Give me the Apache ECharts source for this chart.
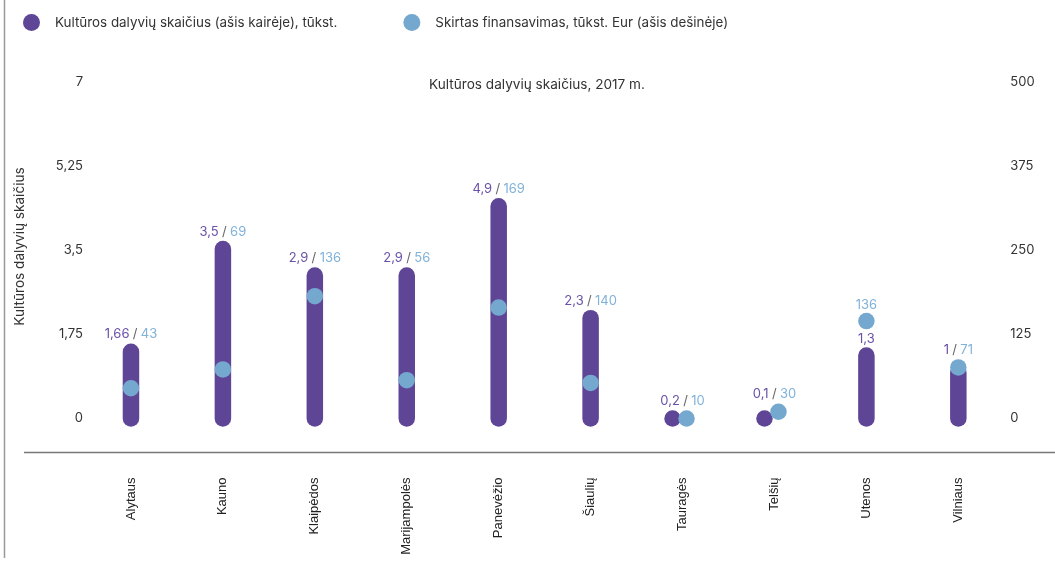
<!DOCTYPE html>
<html><head><meta charset="utf-8">
<script src="https://cdn.jsdelivr.net/npm/echarts@6/dist/echarts.min.js"></script>
<style>html,body{margin:0;padding:0;background:#fff}#c{width:1055px;height:561px}</style>
</head><body><div id="c"></div>
<script>
const categories = ['Alytaus','Kauno','Klaipėdos','Marijampolės','Panevėžio','Šiaulių','Tauragės','Telšių','Utenos','Vilniaus'];
// bar heights and dot positions as drawn in the picture
const participants = [1.39, 3.53, 2.98, 2.98, 4.42, 2.09, 0, 0, 1.31, 0.95];
const funding = [45, 73, 182, 57, 165, 53, 0, 10, 145, 76];
// value labels as printed
const participantsLabels = ['1,66','3,5','2,9','2,9','4,9','2,3','0,2','0,1','1,3','1'];
const fundingLabels = ['43','69','136','56','169','140','10','30','136','71'];
const leftTicks = [0, 1.75, 3.5, 5.25, 7];
const rightTicks = [0, 125, 250, 375, 500];
const nameParticipants = 'Kultūros dalyvių skaičius (ašis kairėje), tūkst.';
const nameFunding = 'Skirtas finansavimas, tūkst. Eur (ašis dešinėje)';
const titleText = 'Kultūros dalyvių skaičius, 2017 m.';
const leftAxisName = 'Kultūros dalyvių skaičius';

const PURPLE = '#5e4596', BLUE = '#75a8cf';
const PURPLE_TXT = '#6b51a8', BLUE_TXT = '#80b2da';
const FONT = 'Inter, "Noto Sans", sans-serif';
const W = 16.5, R = W / 2;

const chart = echarts.init(document.getElementById('c'), null, {renderer: 'canvas'});
const fmtComma = v => String(v).replace('.', ',');

chart.setOption({
  animation: false,
  title: {text: titleText, left: 532, top: 73, textAlign: 'center',
    textStyle: {fontFamily: FONT, fontSize: 13.6, fontWeight: 'normal', color: '#333'}},
  legend: {left: 18, top: 9, icon: 'circle', itemWidth: 17, itemHeight: 17, itemGap: 66,
    textStyle: {fontFamily: FONT, fontSize: 13.4, color: '#333', padding: [0, 0, 0, 10]},
    data: [nameParticipants, nameFunding]},
  grid: {left: 85, right: 50.7, top: 82.5, bottom: 142.5},
  xAxis: {type: 'category', data: categories, axisLine: {show: false}, axisTick: {show: false},
    axisLabel: {rotate: 90, margin: 59, color: '#222', fontSize: 13, fontFamily: '"Liberation Sans", Arial, sans-serif'}},
  yAxis: [
    {type: 'value', min: 0, max: 7, interval: 1.75, splitLine: {show: false}, axisLine: {show: false}, axisTick: {show: false},
      axisLabel: {margin: 2, color: '#333', fontSize: 13, fontFamily: FONT, formatter: v => fmtComma(v)},
      name: leftAxisName, nameLocation: 'middle', nameRotate: 90, nameGap: 58,
      nameTextStyle: {fontFamily: FONT, fontSize: 13.6, color: '#333', padding: [0, 0, 0, 8]}},
    {type: 'value', min: 0, max: 500, interval: 125, splitLine: {show: false}, axisLine: {show: false}, axisTick: {show: false},
      axisLabel: {margin: 6, color: '#333', fontSize: 13, fontFamily: FONT}}
  ],
  series: [
    {name: nameParticipants, type: 'custom', yAxisIndex: 0, itemStyle: {color: PURPLE}, z: 2,
      data: participants.map((v, i) => [i, v]),
      renderItem: (params, api) => {
        const i = api.value(0), v = api.value(1);
        const p0 = api.coord([i, 0]), p1 = api.coord([i, v]);
        const dx = v < 0.05 ? -10 : 0;
        return {type: 'rect', shape: {x: p0[0] - R + dx, y: p1[1] - R, width: W, height: p0[1] - p1[1] + W, r: R},
          style: {fill: PURPLE}};
      }},
    {name: nameFunding, type: 'custom', yAxisIndex: 1, itemStyle: {color: BLUE}, z: 3,
      data: funding.map((v, i) => [i, v]),
      renderItem: (params, api) => {
        const i = api.value(0), v = api.value(1);
        const p = api.coord([i, v]);
        const dx = participants[i] < 0.05 ? 4 : 0;
        return {type: 'circle', shape: {cx: p[0] + dx, cy: p[1], r: R}, style: {fill: BLUE}};
      }}
  ]
});

// value labels placed using the library's pixel conversion
const rich = {
  p: {fill: PURPLE_TXT, fontFamily: FONT, fontSize: 13},
  s: {fill: '#666', fontFamily: FONT, fontSize: 13},
  b: {fill: BLUE_TXT, fontFamily: FONT, fontSize: 13}
};
const graphics = [
  {type: 'line', shape: {x1: 4.5, y1: 0, x2: 4.5, y2: 558}, style: {stroke: '#999', lineWidth: 1.5}},
  {type: 'line', shape: {x1: 24, y1: 452.5, x2: 1055, y2: 452.5}, style: {stroke: '#777', lineWidth: 1.5}}
];
categories.forEach((c, i) => {
  const pb = chart.convertToPixel({xAxisIndex: 0, yAxisIndex: 0}, [i, participants[i]]);
  const pd = chart.convertToPixel({xAxisIndex: 0, yAxisIndex: 1}, [i, funding[i]]);
  const barTop = pb[1] - R, dotTop = pd[1] - R, dotBottom = pd[1] + R;
  const x = pb[0];
  if (dotBottom < barTop - 5) {
    graphics.push({type: 'text', x: x, y: dotTop - 8, style: {text: '{b|' + fundingLabels[i] + '}', rich, align: 'center', verticalAlign: 'middle'}});
    graphics.push({type: 'text', x: x, y: barTop - 8, style: {text: '{p|' + participantsLabels[i] + '}', rich, align: 'center', verticalAlign: 'middle'}});
  } else {
    const top = Math.min(barTop, dotTop);
    graphics.push({type: 'text', x: x, y: top - 9,
      style: {text: '{p|' + participantsLabels[i] + '} {s|/} {b|' + fundingLabels[i] + '}', rich, align: 'center', verticalAlign: 'middle'}});
  }
});
chart.setOption({graphic: graphics});
</script></body></html>
